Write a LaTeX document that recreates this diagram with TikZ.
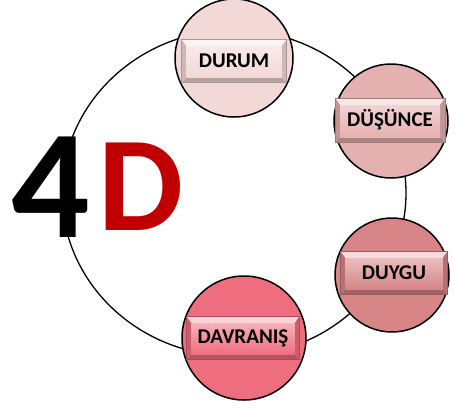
\documentclass[tikz,border=0pt]{standalone}
\usepackage{fontspec}
\setmainfont{Carlito}
\definecolor{cA}{RGB}{242,216,214}
\definecolor{cB}{RGB}{229,176,176}
\definecolor{cC}{RGB}{215,133,135}
\definecolor{cD}{RGB}{238,110,128}
\definecolor{dred}{RGB}{192,0,0}
\tikzset{
  ring/.style={draw=black, line width=1.3pt},
  bubble/.style={circle, draw=black, line width=1.5pt, inner sep=0pt},
  lbl/.style={font=\bfseries\fontsize{21}{21}\selectfont, inner sep=0pt, text=black},
}
\newcommand\bevbtn[7]{%
  \pgfmathsetmacro\btnL{#2-#4/2}%
  \pgfmathsetmacro\btnR{#2+#4/2}%
  \pgfmathsetmacro\btnT{#3-#5/2}%
  \pgfmathsetmacro\btnB{#3+#5/2}%
  \fill[#6!92!black] (\btnL,\btnT) rectangle (\btnR,\btnB);
  \fill[#6!30!white] (\btnL,\btnT) -- (\btnR,\btnT) -- (\btnR-5,\btnT+7) -- (\btnL+5,\btnT+7) -- cycle;
  \fill[#6!75!black] (\btnL,\btnB) -- (\btnR,\btnB) -- (\btnR-5,\btnB-5) -- (\btnL+5,\btnB-5) -- cycle;
  \fill[#6!85!black] (\btnL,\btnT) -- (\btnL+5,\btnT+7) -- (\btnL+5,\btnB-5) -- (\btnL,\btnB) -- cycle;
  \fill[#6!85!black] (\btnR,\btnT) -- (\btnR-5,\btnT+7) -- (\btnR-5,\btnB-5) -- (\btnR,\btnB) -- cycle;
  \shade[top color=#6!55!white, bottom color=#6] (\btnL+5,\btnT+7) rectangle (\btnR-5,\btnB-5);
  \draw[#6!70!black, line width=0.4pt] (\btnL,\btnT) rectangle (\btnR,\btnB);
  \node[lbl] (#1) at (#2,#3) {#7};
}
\begin{document}
\begin{tikzpicture}[x=1pt, y=-1pt]
\useasboundingbox (0,0) rectangle (455,407);
% outer ring
\draw[ring] (234,193) ellipse [x radius=172, y radius=163];
% bubbles
\node[bubble, fill=cA, minimum size=118pt] (durum) at (234,58) {};
\node[bubble, fill=cB, minimum size=114pt] (dusunce) at (391,121) {};
\node[bubble, fill=cC, minimum size=114pt] (duygu) at (392,275) {};
\node[bubble, fill=cD, minimum size=124pt] (davranis) at (244,338) {};
% buttons
\bevbtn{tdurum}{234}{61}{105}{43}{cA}{DURUM}
\bevbtn{tdusunce}{390}{120}{110}{44}{cB}{DÜŞÜNCE}
\bevbtn{tduygu}{394}{273}{107}{43}{cC}{DUYGU}
\bevbtn{tdavranis}{243}{338}{113}{43}{cD}{DAVRANIŞ}
% 4D
\node[font=\bfseries\fontsize{155}{155}\selectfont, inner sep=0pt, anchor=base, text=black] (four) at (51,237) {4};
\node[font=\bfseries\fontsize{135}{135}\selectfont, inner sep=0pt, anchor=base, text=dred] (dee) at (141,230) {D};
\end{tikzpicture}
\end{document}
